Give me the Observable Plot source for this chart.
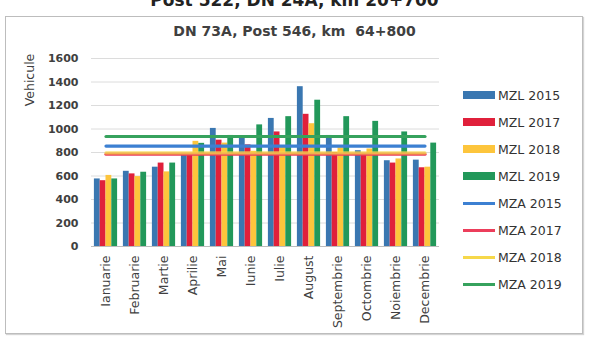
<!DOCTYPE html>
<html>
<head>
<meta charset="utf-8">
<script src="https://cdn.jsdelivr.net/npm/d3@7"></script>
<script src="https://cdn.jsdelivr.net/npm/@observablehq/plot@0.6"></script>
<style>
  body { margin: 0; background: #fff; }
  #wrap { position: relative; width: 589px; height: 339px; overflow: hidden; background: #fff;
          font-family: "DejaVu Sans", sans-serif; color: #404040; }
  #frame { position: absolute; left: 5px; top: 16px; width: 576px; height: 316px;
           border: 1px solid #bdbdbd; box-shadow: 1px 1px 1px #d4d4d4; }
  #above { position: absolute; left: 0; width: 589px; top: -10px; text-align: center;
           font-weight: bold; font-size: 17px; color: #222; white-space: pre; }
  #title { position: absolute; left: 0; width: 589px; top: 23px; text-align: center;
           font-weight: bold; font-size: 14px; white-space: pre; color: #404040; }
  #ylabel { position: absolute; left: -10px; top: 72px; width: 80px; height: 16px; line-height: 16px;
            text-align: center; font-size: 12.5px; color: #404040; transform: rotate(-90deg); }
  #chart { position: absolute; left: 0; top: 0; }
  #legend { position: absolute; left: 463px; top: 0; }
  .row { position: absolute; left: 0; height: 0; white-space: nowrap; }
  .sw { position: absolute; left: 0; width: 32px; }
  .lab { position: absolute; left: 35px; top: -7px; font-size: 12.5px; color: #333; }
  #chart [aria-label^="y-axis"] text { font-weight: bold; font-size: 11px; }
  #chart [aria-label^="x-axis"] text { font-size: 12.5px; }
</style>
</head>
<body>
<div id="wrap">
  <div id="above">Post 522, DN 24A, km 20+700</div>
  <div id="frame"></div>
  <div id="title">DN 73A, Post 546, km  64+800</div>
  <div id="ylabel">Vehicule</div>
  <div id="chart"></div>
  <div id="legend"></div>
</div>
<script>
// Monthly traffic (vehicles) at DN 73A, post 546
const months = ["Ianuarie", "Februarie", "Martie", "Aprilie", "Mai", "Iunie",
                "Iulie", "August", "Septembrie", "Octombrie", "Noiembrie", "Decembrie"];

// MZL: monthly daily averages per year
const mzl2015 = [575, 640, 675, 780, 1005, 925, 1090, 1360, 945, 815, 730, 735];
const mzl2017 = [560, 618, 710, 775, 905, 865, 975, 1125, 800, 775, 710, 670];
const mzl2018 = [605, 595, 635, 895, 880, 810, 850, 1045, 840, 830, 745, 675];
const mzl2019 = [575, 632, 710, 878, 945, 1035, 1105, 1245, 1105, 1065, 975, 880];

// MZA: annual daily averages
const mza2015 = 855;
const mza2017 = 786;
const mza2018 = 796;
const mza2019 = 936;

const barNames = ["MZL 2015", "MZL 2017", "MZL 2018", "MZL 2019"];
const lineNames = ["MZA 2015", "MZA 2017", "MZA 2018", "MZA 2019"];
const yTicks = [0, 200, 400, 600, 800, 1000, 1200, 1400, 1600];

const barColors = ["#3a77b1", "#e0203b", "#fdc53c", "#22985a"];
const lineColors = ["#3c80d2", "#ec3e5b", "#f6d84a", "#36a25d"];

const barSeries = [mzl2015, mzl2017, mzl2018, mzl2019];
const lineValues = [mza2015, mza2017, mza2018, mza2019];

const barRows = barSeries.map(vals => months.map((m, i) => ({month: m, value: vals[i]})));
const lineRows = lineValues.map(v => months.map(m => ({month: m, value: v})));

// layout of the grouped bars inside each month band
const plotWidth = 348, paddingInner = 0.2, paddingOuter = 0.1;
const step = plotWidth / (months.length - paddingInner + 2 * paddingOuter);
const slot = step * (1 - paddingInner) / barSeries.length;

const marks = [
  Plot.ruleY(yTicks, {stroke: "#dcdcdc", strokeWidth: 1}),
  ...barRows.map((rows, k) => Plot.barY(rows, {
    x: "month", y: "value", fill: barColors[k],
    insetLeft: k * slot, insetRight: (barSeries.length - 1 - k) * slot
  })),
  Plot.ruleY([0], {stroke: "#bdbdbd"}),
  ...lineRows.map((rows, k) => Plot.lineY(rows, {
    x: "month", y: "value", stroke: lineColors[k], strokeWidth: 3.2,
    strokeOpacity: k === 2 ? 0.75 : 1
  }))
];

const chart = Plot.plot({
  width: 91 + plotWidth + 20,
  height: 336,
  marginLeft: 91,
  marginRight: 20,
  marginTop: 58,
  marginBottom: 90,
  style: {fontFamily: "DejaVu Sans, sans-serif", fontSize: "12px", color: "#404040",
          background: "transparent", overflow: "visible"},
  x: {type: "band", domain: months, paddingInner, paddingOuter, round: false,
      tickSize: 0, tickPadding: 9, tickRotate: -90, label: null},
  y: {domain: [0, 1600], ticks: yTicks, tickFormat: d => String(d), tickSize: 0,
      tickPadding: 13, label: null},
  marks
});
document.getElementById("chart").appendChild(chart);

// legend on the right: bar swatches then line swatches
const legend = document.getElementById("legend");
const entries = [
  ...barNames.map((n, k) => ({name: n, color: barColors[k], h: 8})),
  ...lineNames.map((n, k) => ({name: n, color: lineColors[k], h: 3}))
];
entries.forEach((e, k) => {
  const row = document.createElement("div");
  row.className = "row";
  row.style.top = (95 + k * 27) + "px";
  const sw = document.createElement("div");
  sw.className = "sw";
  sw.style.height = e.h + "px";
  sw.style.top = (-e.h / 2) + "px";
  sw.style.background = e.color;
  const lab = document.createElement("div");
  lab.className = "lab";
  lab.textContent = e.name;
  row.appendChild(sw);
  row.appendChild(lab);
  legend.appendChild(row);
});
</script>
</body>
</html>
